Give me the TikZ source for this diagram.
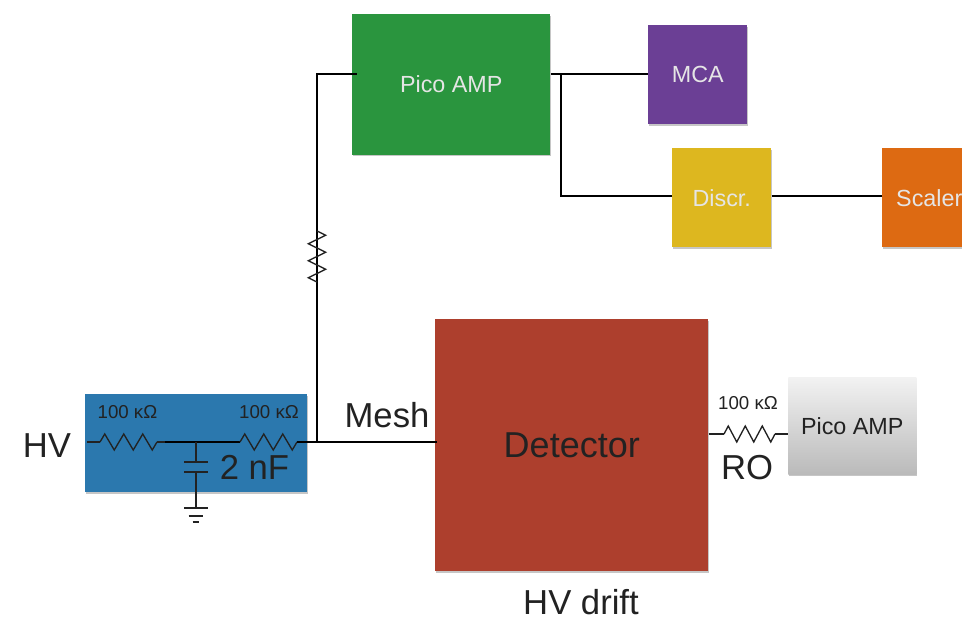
\documentclass[tikz,border=0pt]{standalone}
\usepackage{fontspec}
\setmainfont{Liberation Sans}
\usetikzlibrary{decorations.pathmorphing,shadows}
\definecolor{ampgreen}{HTML}{2A953E}
\definecolor{mcapurple}{HTML}{6B3F95}
\definecolor{discryellow}{HTML}{DDB71F}
\definecolor{scalerorange}{HTML}{DD6A12}
\definecolor{detred}{HTML}{AD3F2D}
\definecolor{hvblue}{HTML}{2B78AE}
\definecolor{inkgray}{HTML}{222222}
\tikzset{
  block/.style={anchor=north west,inner sep=0pt,text=white!90!black,font=\fontsize{17.5}{20}\selectfont,
    drop shadow={shadow xshift=0.4pt,shadow yshift=-1.2pt,opacity=0.45}},
  wire/.style={line width=1.1pt,black},
  thinwire/.style={line width=0.9pt,inkgray},
  res/.style={line width=1pt,inkgray,decorate,decoration={zigzag,segment length=14.25pt,amplitude=6pt}},
  big/.style={text=inkgray,inner sep=0pt,font=\fontsize{26}{30}\selectfont},
  small/.style={text=inkgray,inner sep=0pt,font=\fontsize{14}{16}\selectfont}
}
\begin{document}
\begin{tikzpicture}[x=0.75pt,y=-0.75pt]
  \useasboundingbox (0,0) rectangle (962,617);
  \clip (0,0) rectangle (962,617);
  % boxes
  \node[block,fill=ampgreen,minimum width=148.5pt,minimum height=105.25pt] (amp) at (352,14) {Pico AMP};
  \node[block,fill=mcapurple,minimum width=74.25pt,minimum height=74.25pt] (mca) at (648,25) {MCA};
  \node[block,fill=discryellow,minimum width=74.25pt,minimum height=74.25pt] (discr) at (672,148) {Discr.};
  \node[block,fill=scalerorange,minimum width=70.5pt,minimum height=74.25pt] (scaler) at (882,148) {Scaler};
  \node[block,fill=detred,text=inkgray,font=\fontsize{27}{30}\selectfont,minimum width=204.75pt,minimum height=189pt] (det) at (435,319) {Detector};
  \node[block,fill=hvblue,minimum width=166.5pt,minimum height=73.5pt] (hvbox) at (85,394) {};
  \node[block,top color=black!5,bottom color=black!27,text=inkgray,minimum width=96pt,minimum height=72.75pt] (ro) at (788,377) {Pico AMP};
  % points on the wires
  \coordinate (in) at (87,442);
  \coordinate (r1a) at (100,442);
  \coordinate (r1b) at (157,442);
  \coordinate (join) at (165,442);
  \coordinate (mid) at (196,442);
  \coordinate (r2a) at (240,442);
  \coordinate (r2b) at (297,442);
  \coordinate (tee) at (317,442);
  \coordinate (mesh) at (437,442);
  \coordinate (r3a) at (317,282);
  \coordinate (r3b) at (317,231);
  \coordinate (bend) at (317,74);
  \coordinate (ampin) at (357,74);
  \coordinate (ampout) at (551,74);
  \coordinate (split) at (561,74);
  \coordinate (down) at (561,196);
  \coordinate (r4a) at (724,434);
  \coordinate (r4b) at (775,434);
  % labels
  \node[big] (hv) at (47,446) {HV};
  \node[big] (meshl) at (387,415) {Mesh};
  \node[big] (cap) at (254.5,467) {2 nF};
  \node[big] (rol) at (747,468) {RO};
  \node[big] (drift) at (581,602.5) {HV drift};
  \node[small] (k1) at (127.5,412) {100 κΩ};
  \node[small] (k2) at (269,412) {100 κΩ};
  \node[small] (k3) at (748,403) {100 κΩ};
  % wires
  \draw[thinwire] (in) -- (r1a) (r1b) -- (join);
  \draw[res] (r1a) -- (r1b);
  \draw[wire] (join) -- (r2a);
  \draw[res] (r2a) -- (r2b);
  \draw[wire] (r2b) -- (mesh);
  \draw[wire] (tee) -- (bend) -- (ampin);
  \draw[res,decoration={segment length=12.75pt,amplitude=6.5pt}] (r3b) -- (r3a);
  \draw[wire] (ampout) -- (ampout -| mca.west);
  \draw[wire] (split) -- (down) -- (down -| discr.west);
  \draw[wire] (down -| discr.east) -- (down -| scaler.west);
  \draw[thinwire] (det.east |- r4a) -- (r4a) (r4b) -- (ro.west |- r4b);
  \draw[res,decoration={segment length=12.75pt}] (r4a) -- (r4b);
  % capacitor and ground
  \coordinate (capa) at (196,462);
  \coordinate (capb) at (196,472);
  \coordinate (gnd) at (196,508);
  \draw[thinwire] (mid) -- (capa) (capb) -- (gnd);
  \draw[thinwire] ([xshift=-9pt]capa) -- ([xshift=9pt]capa);
  \draw[thinwire] ([xshift=-9pt]capb) -- ([xshift=9pt]capb);
  \draw[thinwire] ([xshift=-9pt]gnd) -- ([xshift=9pt]gnd);
  \draw[thinwire] ([shift={(-5.5pt,-6pt)}]gnd) -- ([shift={(5.5pt,-6pt)}]gnd);
  \draw[thinwire] ([shift={(-2.5pt,-10.5pt)}]gnd) -- ([shift={(2.5pt,-10.5pt)}]gnd);
\end{tikzpicture}
\end{document}
